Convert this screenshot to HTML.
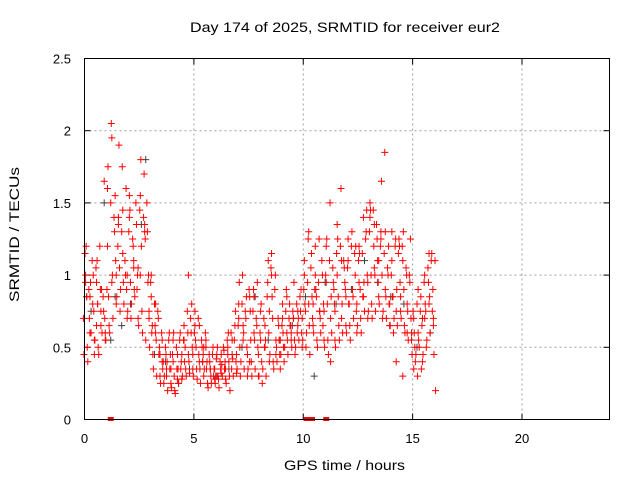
<!DOCTYPE html>
<html><head><meta charset="utf-8"><style>
body{margin:0;background:#fff;}
svg text{font-family:"Liberation Sans",sans-serif;fill:#000;}
</style></head><body>
<svg id="chart" width="640" height="480" xmlns="http://www.w3.org/2000/svg">
<rect width="640" height="480" fill="#fff"/>
<text x="190" y="32" font-size="14" textLength="310" lengthAdjust="spacingAndGlyphs">Day 174 of 2025, SRMTID for receiver eur2</text>
<text x="284" y="470" font-size="14" textLength="121" lengthAdjust="spacingAndGlyphs">GPS time / hours</text>
<text transform="translate(19,302) rotate(-90)" font-size="14" textLength="135" lengthAdjust="spacingAndGlyphs">SRMTID / TECUs</text>
<g id="grid"></g><g id="ticks"></g><g id="dark"></g><g id="red"></g>
<rect x="84.5" y="58.5" width="525" height="361" fill="none" stroke="#000"/>
</svg>
<script>
const xTicks=[0,5,10,15,20];
const yTicks=[0,0.5,1,1.5,2,2.5];
const yTickLabels=["0","0.5","1","1.5","2","2.5"];
const hours=[0,0.1,0.2,0.3,0.4,0.5,0.6,0.7,0.8,0.9,1,1.1,1.2,1.3,1.4,1.5,1.6,1.7,1.8,1.9,2,2.1,2.2,2.3,2.4,2.5,2.6,2.7,2.8,2.9,3,3.1,3.2,3.3,3.4,3.5,3.6,3.7,3.8,3.9,4,4.1,4.2,4.3,4.4,4.5,4.6,4.7,4.8,4.9,5,5.1,5.2,5.3,5.4,5.5,5.6,5.7,5.8,5.9,6,6.1,6.2,6.3,6.4,6.5,6.6,6.7,6.8,6.9,7,7.1,7.2,7.3,7.4,7.5,7.6,7.7,7.8,7.9,8,8.1,8.2,8.3,8.4,8.5,8.6,8.7,8.8,8.9,9,9.1,9.2,9.3,9.4,9.5,9.6,9.7,9.8,9.9,10,10.1,10.2,10.3,10.4,10.5,10.6,10.7,10.8,10.9,11,11.1,11.2,11.3,11.4,11.5,11.6,11.7,11.8,11.9,12,12.1,12.2,12.3,12.4,12.5,12.6,12.7,12.8,12.9,13,13.1,13.2,13.3,13.4,13.5,13.6,13.7,13.8,13.9,14,14.1,14.2,14.3,14.4,14.5,14.6,14.7,14.8,14.9,15,15.1,15.2,15.3,15.4,15.5,15.6,15.7,15.8,15.9,16];
const redA=[.70,.85,.60,.95,.75,.55,.80,.65,.90,.70,
.60,.85,.95,1.0,1.1,1.0,1.05,1.15,.95,.90,
1.0,.95,1.1,.90,1.0,1.05,1.2,1.3,1.25,1.0,
.75,.65,.60,.55,.50,.45,.40,.35,.40,.45,
.35,.30,.28,.35,.40,.45,.50,.45,.40,.50,
.45,.50,.40,.35,.45,.50,.40,.35,.30,.35,
.35,.30,.32,.38,.40,.35,.40,.45,.42,.40,
.45,.50,.55,.60,.50,.45,.55,.60,.55,.50,
.45,.40,.50,.55,.60,.75,.70,.55,.50,.45,
.55,.50,.60,.55,.65,.60,.55,.65,.70,.60,
.70,.75,.80,.65,.70,.80,.85,.75,.70,.80,
.75,.80,.70,.85,.80,.75,.85,.70,.80,.90,
.85,.80,.90,.85,.75,.80,.90,.85,.95,1.0,
.95,1.0,1.05,1.0,.95,1.1,1.0,.90,.85,.80,
.80,.85,.75,.90,.95,.85,.90,.80,.75,.70,
.55,.50,.60,.55,.65,.70,.75,.80,.85,.90,.70];
const redB=[1.15,1.0,.90,1.1,.80,1.05,.95,1.2,.85,.75,
.90,1.2,1.5,1.4,1.3,1.2,1.4,1.3,1.1,1.0,
1.3,1.4,1.25,1.5,1.35,1.45,1.55,1.4,1.5,1.3,
.95,.85,.80,.75,.70,.60,.55,.50,.55,.60,
.45,.40,.50,.55,.60,.55,.65,.75,.70,.60,
.60,.65,.70,.55,.50,.60,.50,.45,.45,.50,
.42,.45,.40,.50,.48,.55,.50,.60,.55,.65,
.65,.70,.80,.75,.70,.90,.85,.75,.70,.65,
.60,.55,.70,.85,.95,1.05,1.0,.90,.70,.65,
.65,.70,.75,.70,.80,.75,.70,.80,.85,.75,
.90,1.0,.95,1.05,1.15,.90,1.0,.95,1.1,1.0,
1.0,.95,1.1,1.05,.95,1.15,1.0,1.2,1.1,1.05,
1.05,1.1,1.2,1.15,1.0,1.1,1.2,1.15,1.25,1.3,
1.3,1.4,1.45,1.35,1.25,1.2,1.3,1.15,1.05,1.0,
1.0,1.1,1.2,1.15,1.25,1.2,1.1,1.05,1.0,.95,
.75,.70,.80,.75,.85,.95,1.0,1.05,1.1,1.15,1.1];
const redC=[.45,.50,.40,.60,.45,.55,.50,.45,.60,.55,
.55,.65,.60,.70,.80,.85,.75,.90,.80,.70,
.75,.70,.80,.85,.70,.65,.75,.60,.55,.70,
.50,.45,.35,.30,.30,.25,.25,.30,.20,.25,
.22,.20,.18,.25,.28,.30,.35,.30,.32,.35,
.30,.35,.28,.25,.30,.35,.25,.22,.25,.28,
.25,.28,.22,.30,.28,.25,.30,.20,.30,.32,
.35,.30,.40,.35,.30,.35,.40,.30,.35,.30,
.30,.25,.35,.30,.40,.45,.40,.35,.40,.35,
.45,.40,.50,.45,.55,.50,.45,.50,.55,.50,
.55,.50,.60,.45,.65,.60,.55,.50,.60,.55,
.50,.55,.45,.60,.55,.50,.65,.55,.60,.65,
.60,.65,.55,.70,.60,.65,.70,.60,.75,.70,
.75,.80,.70,.75,.85,.80,.70,.75,.70,.65,
.65,.60,.70,.65,.75,.70,.65,.60,.55,.60,
.45,.40,.45,.50,.40,.45,.50,.55,.60,.65,.45];
const redD=[.95,1.2,.70,.85,1.0,.65,1.1,.90,.75,1.65,
1.6,1.75,2.05,1.95,1.55,1.35,1.9,1.75,1.45,1.6,
1.55,1.45,1.2,1.05,.90,1.0,1.8,1.7,1.35,.95,
1.0,.60,.65,.80,.45,.40,.35,.45,.30,.35,
.55,.60,.35,.45,.35,.55,.40,.60,1.0,.80,
.75,.55,.45,.65,.40,.55,.35,.40,.35,.30,
.30,.50,.35,.45,.35,.45,.60,.35,.55,.75,
.80,.95,1.0,.65,.85,.40,.75,.90,.85,.95,
.75,.80,.50,.65,1.1,1.15,.85,1.0,.45,.55,
.80,.60,.90,.85,.65,.70,.95,.60,.75,.90,
1.1,.80,1.25,1.3,.85,1.2,.90,1.25,.75,.65,
1.2,1.25,1.5,.40,.90,1.35,1.25,1.6,1.1,.95,
1.25,.80,1.3,.90,1.2,.95,1.15,.85,1.4,1.45,
1.5,1.45,1.2,1.35,1.1,1.25,1.65,1.85,1.3,1.2,
1.3,.85,1.25,.40,1.2,.30,1.3,1.0,.60,1.25,
.35,.60,.30,.90,.35,.70,.80,.95,1.15,.75,.20];
const darkHours=[0.1,0.3,0.6,0.9,1.2,1.4,1.7,2.1,2.6,2.8,3.2,3.7,4.3,4.8,5.4,6.0,6.6,7.2,7.8,8.4,8.9,9.5,10.1,10.5,11.0,11.5,12.2,12.8,13.4,14.0,14.6,15.2,15.8];
const darkVals=[.85,.75,.80,1.5,.55,.85,.65,.80,1.35,1.8,.45,.40,.25,.35,.40,.30,.35,.50,.85,.55,.55,.65,.85,.30,.95,.80,.90,1.1,.95,.85,.80,.50,.60];
const zeroHours=[1.2,10.15,10.4,11.05];

const NS="http://www.w3.org/2000/svg";
const X0=84.5,X1=609.5,Y0=419.5,Y1=58.5;
const xs=h=>X0+(X1-X0)*h/24;
const ys=v=>Y0-(Y0-Y1)*v/2.5;
function mk(tag,attrs,parent){const e=document.createElementNS(NS,tag);for(const k in attrs)e.setAttribute(k,attrs[k]);parent.appendChild(e);return e;}
const grid=document.getElementById('grid'),ticks=document.getElementById('ticks');
xTicks.forEach((t,i)=>{
  const x=xs(t);
  if(t>0){const g=mk('line',{x1:x,x2:x,y1:Y1,y2:Y0,stroke:'#a0a0a0','stroke-dasharray':'2,3'},grid);
  
  }
  mk('line',{x1:x,x2:x,y1:Y0,y2:Y0-6,stroke:'#000'},ticks);
  mk('line',{x1:x,x2:x,y1:Y1,y2:Y1+6,stroke:'#000'},ticks);
  const l=mk('text',{x:x,y:443,'font-size':13,'text-anchor':'middle'},ticks);
  l.textContent=String(t);
  
  
});
yTicks.forEach((t,i)=>{
  const y=ys(t);
  if(t>0&&t<2.5){const g=mk('line',{x1:X0,x2:X1,y1:y,y2:y,stroke:'#a0a0a0','stroke-dasharray':'2,3'},grid);
  
  }
  mk('line',{x1:X0,x2:X0+6,y1:y,y2:y,stroke:'#000'},ticks);
  mk('line',{x1:X1,x2:X1-6,y1:y,y2:y,stroke:'#000'},ticks);
  const l=mk('text',{x:71,y:y+5,'font-size':13,'text-anchor':'end'},ticks);
  l.textContent=yTickLabels[i];
  
  
});
function plus(g,h,v,color,name){
  const x=xs(h),y=ys(v);
  const p=mk('path',{d:`M${x-3.5} ${y}H${x+3.5}M${x} ${y-3.5}V${y+3.5}`,stroke:color,'stroke-width':1,fill:'none'},g);
  
  
}
const dark=document.getElementById('dark'),red=document.getElementById('red');
darkHours.forEach((h,i)=>plus(dark,h,darkVals[i],'#404040','dark-point'));
[redA,redB,redC,redD].forEach((arr,k)=>arr.forEach((v,i)=>{
  const off=((i*7+k*3)%5-2)*0.025;
  plus(red,hours[i]+off,v,'#ff0000','red-point');
}));
zeroHours.forEach(h=>{
  const r=mk('rect',{x:xs(h)-3,y:Y0-2.5,width:6,height:4,fill:'#ff0000'},red);
  
  
});
</script>
</body></html>
